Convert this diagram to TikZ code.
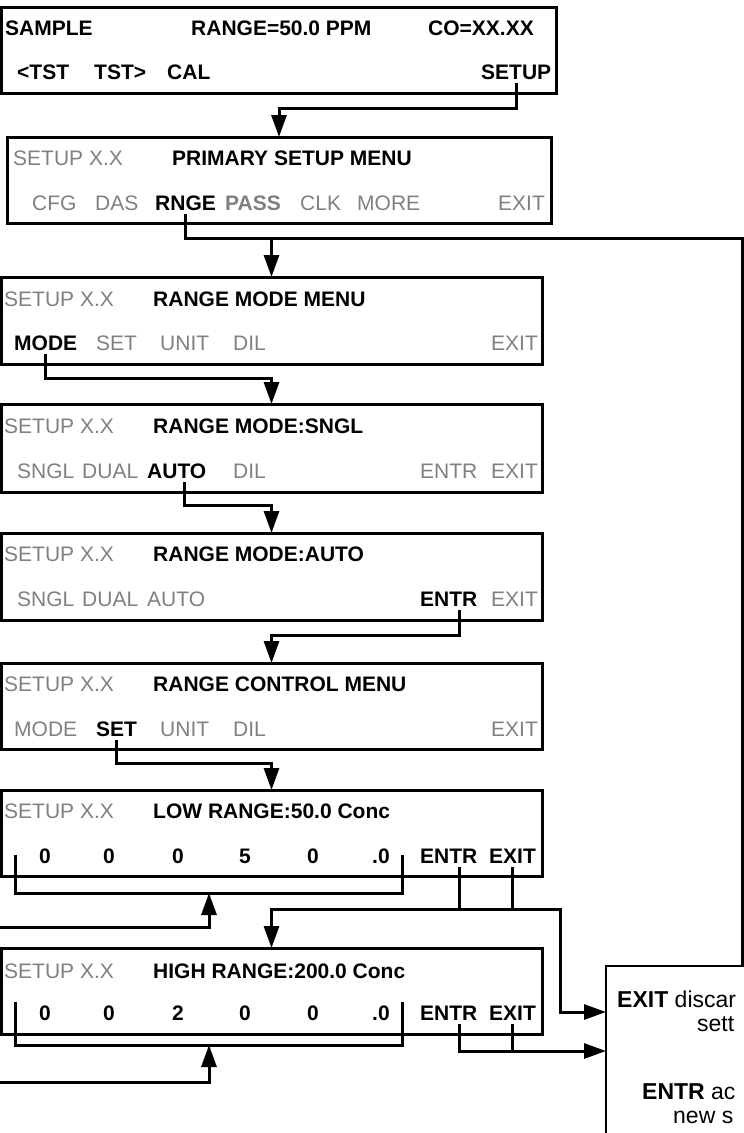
\documentclass[tikz,border=0pt]{standalone}
\usepackage{fontspec}
\setmainfont{Liberation Sans}
\usetikzlibrary{arrows.meta,calc}

\tikzset{
  panel/.style={draw, rectangle, line width=3pt, inner sep=0pt, outer sep=0pt, anchor=north west},
  lbl/.style={anchor=base west, inner xsep=0pt, inner ysep=4pt, font=\fontsize{21}{25}\selectfont},
  hot/.style={lbl, font=\fontsize{21}{25}\selectfont\bfseries},
  dull/.style={lbl, text=black!50},
  dullbf/.style={hot, text=black!50},
  digit/.style={hot, anchor=base},
  notetxt/.style={lbl, font=\fontsize{23}{27}\selectfont},
  wire/.style={line width=3pt},
  flow/.style={wire, -{Triangle[length=22pt,width=15pt]}},
}

\begin{document}
\begin{tikzpicture}[x=1pt,y=-1pt]
  \useasboundingbox (0,0) rectangle (744,1133);

  % screens
  \node[panel, minimum width=555pt, minimum height=86pt] (sample) at (1,7) {};
  \node[panel, minimum width=544pt, minimum height=86pt] (primary) at (7,137) {};
  \node[panel, minimum width=541pt, minimum height=87pt] (rmode) at (1,277) {};
  \node[panel, minimum width=541pt, minimum height=88pt] (rsngl) at (1,404) {};
  \node[panel, minimum width=541pt, minimum height=87pt] (rauto) at (1,533) {};
  \node[panel, minimum width=541pt, minimum height=86pt] (rctrl) at (1,663) {};
  \node[panel, minimum width=541pt, minimum height=86pt] (lowr) at (1,790) {};
  \node[panel, minimum width=541pt, minimum height=86pt] (highr) at (1,948) {};

  % sample display
  \node[hot] (smp) at (5,35) {SAMPLE};
  \node[hot] (smprng) at (191,35) {RANGE=50.0 PPM};
  \node[hot] (smpco) at (428,35) {CO=XX.XX};
  \node[hot] (tstl) at (17,79) {<TST};
  \node[hot] (tstr) at (94,79) {TST>};
  \node[hot] (cal) at (167,79) {CAL};
  \node[hot] (setup) at (481,79) {SETUP};

  % primary setup menu
  \node[dull] (px) at (13,165) {SETUP X.X};
  \node[hot] (ptitle) at (172,165) {PRIMARY SETUP MENU};
  \node[dull] (cfg) at (32,210) {CFG};
  \node[dull] (das) at (95,210) {DAS};
  \node[hot] (rnge) at (155,210) {RNGE};
  \node[dullbf] (pass) at (225,210) {PASS};
  \node[dull] (clk) at (300,210) {CLK};
  \node[dull] (more) at (357,210) {MORE};
  \node[dull] (pexit) at (498,210) {EXIT};

  % range mode menu
  \node[dull] (mx) at (4,306) {SETUP X.X};
  \node[hot] (mtitle) at (153,306) {RANGE MODE MENU};
  \node[hot] (mode) at (14,350) {MODE};
  \node[dull] (mset) at (96,350) {SET};
  \node[dull] (munit) at (160,350) {UNIT};
  \node[dull] (mdil) at (233,350) {DIL};
  \node[dull] (mexit) at (491,350) {EXIT};

  % range mode: sngl
  \node[dull] (sx) at (4,433) {SETUP X.X};
  \node[hot] (stitle) at (153,433) {RANGE MODE:SNGL};
  \node[dull] (ssngl) at (17,478) {SNGL};
  \node[dull] (sdual) at (82,478) {DUAL};
  \node[hot] (sauto) at (147,478) {AUTO};
  \node[dull] (sdil) at (233,478) {DIL};
  \node[dull] (sentr) at (420,478) {ENTR};
  \node[dull] (sexit) at (491,478) {EXIT};

  % range mode: auto
  \node[dull] (ax) at (4,561) {SETUP X.X};
  \node[hot] (atitle) at (153,561) {RANGE MODE:AUTO};
  \node[dull] (asngl) at (17,606) {SNGL};
  \node[dull] (adual) at (82,606) {DUAL};
  \node[dull] (aauto) at (147,606) {AUTO};
  \node[hot] (aentr) at (420,606) {ENTR};
  \node[dull] (aexit) at (491,606) {EXIT};

  % range control menu
  \node[dull] (cx) at (4,691) {SETUP X.X};
  \node[hot] (ctitle) at (153,691) {RANGE CONTROL MENU};
  \node[dull] (cmode) at (14,736) {MODE};
  \node[hot] (cset) at (96,736) {SET};
  \node[dull] (cunit) at (160,736) {UNIT};
  \node[dull] (cdil) at (233,736) {DIL};
  \node[dull] (cexit) at (491,736) {EXIT};

  % low range
  \node[dull] (lx) at (4,818) {SETUP X.X};
  \node[hot] (ltitle) at (153,818) {LOW RANGE:50.0 Conc};
  \foreach \d/\x [count=\i] in {0/45,0/109,0/178,5/245,0/313,.0/381}
    \node[digit] (ld\i) at (\x,863) {\d};
  \node[hot] (lentr) at (420,863) {ENTR};
  \node[hot] (lexit) at (489,863) {EXIT};

  % high range
  \node[dull] (hx) at (4,978) {SETUP X.X};
  \node[hot] (htitle) at (153,978) {HIGH RANGE:200.0 Conc};
  \foreach \d/\x [count=\i] in {0/45,0/109,2/178,0/245,0/313,.0/381}
    \node[digit] (hd\i) at (\x,1020) {\d};
  \node[hot] (hentr) at (420,1020) {ENTR};
  \node[hot] (hexit) at (489,1020) {EXIT};

  % note box (runs off the page)
  \draw[line width=2pt] (744,966) -| (606,1133);
  \coordinate (notein) at (742,966);
  \coordinate (noteexit) at (606,1012);
  \coordinate (noteentr) at (606,1051);
  \node[notetxt] (n1) at (617,1007) {\textbf{EXIT} discar};
  \node[notetxt] (n2) at (697,1031) {sett};
  \node[notetxt] (n3) at (642,1099) {\textbf{ENTR} ac};
  \node[notetxt] (n4) at (673,1123) {new s};

  % connectors
  \draw[flow] (setup.south) -- ++(0,25) -| (primary.north);
  \draw[wire] (rnge.south) -- ++(0,24) coordinate (rj) -| (notein);
  \draw[flow] (rj -| rmode.north) -- (rmode.north);
  \draw[flow] (mode.south) -- ++(0,24) -| (rsngl.north);
  \draw[flow] ([xshift=8pt]sauto.south) -- ++(0,23) -| (rauto.north);
  \draw[flow] ([xshift=11pt]aentr.south) -- ++(0,25) -| (rctrl.north);
  \draw[flow] (cset.south) -- ++(0,23) -| (lowr.north);

  \draw[flow] ([xshift=11pt]lentr.south) -- ++(0,42) coordinate (lj) -| (highr.north);
  \draw[wire] (lexit.south) -- (lexit.south |- lj);
  \draw[flow] (lj) -- ++(101,0) |- (noteexit);
  \draw[flow] ([xshift=11pt]hentr.south) |- (noteentr);
  \draw[wire] (hexit.south) -- (hexit.south |- noteentr);

  % digit brackets
  \coordinate (lowbr) at (209,893);
  \coordinate (lowfeed) at (0,927);
  \draw[wire] (15,855) |- (402,893) -- (402,855);
  \draw[flow] (lowfeed) -| (lowbr);
  \coordinate (highbr) at (209,1045);
  \coordinate (highfeed) at (0,1082);
  \draw[wire] (15,1002) |- (402,1045) -- (402,1002);
  \draw[flow] (highfeed) -| (highbr);
\end{tikzpicture}
\end{document}
